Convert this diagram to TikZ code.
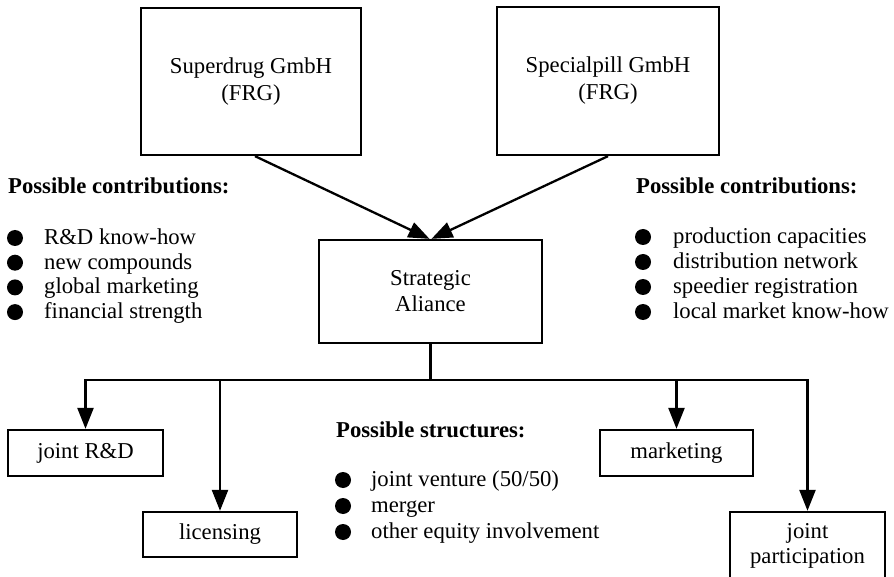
\documentclass[tikz,border=0pt]{standalone}
\usepackage{fontspec}
\setmainfont{Liberation Serif}
\usetikzlibrary{arrows.meta}
\newcommand\dgfont{\fontsize{22.7}{27}\selectfont}
\begin{document}
\begin{tikzpicture}[x=1pt,y=-1pt,line width=2.3pt,
  box/.style={draw,align=center,inner sep=0pt,font=\dgfont},
  arr/.style={-{Triangle[length=21pt,width=16pt]}},
  item/.style={anchor=base west,inner sep=0pt,font=\dgfont},
  head/.style={anchor=base west,inner sep=0pt,font=\dgfont\bfseries},
  dot/.style={circle,fill,draw=none,inner sep=0pt,minimum size=16pt}]
\useasboundingbox (0,0) rectangle (894,577);
% boxes
\node[box,minimum width=220pt,minimum height=147pt] (sd) at (251,81.5) {Superdrug GmbH\\(FRG)};
\node[box,minimum width=222pt,minimum height=148pt] (sp) at (608,81) {Specialpill GmbH\\(FRG)};
\node[box,minimum width=223pt,minimum height=103pt,font={\fontsize{22.7}{26}\selectfont}] (sa) at (430.5,291.5) {Strategic\\Aliance};
\node[box,minimum width=155pt,minimum height=46pt] (jrd) at (85.5,453) {joint R\&D};
\node[box,minimum width=154pt,minimum height=45pt] (lic) at (220,534.5) {licensing};
\node[box,minimum width=153pt,minimum height=46pt] (mkt) at (676.5,453) {marketing};
\node[box,minimum width=155pt,minimum height=67pt,font={\fontsize{22.7}{25}\selectfont}] (jp) at (807.5,545.5) {joint\\participation};
% connectors
\draw[arr] ([xshift=4pt]sd.south) -- ([xshift=-1pt]sa.north);
\draw[arr] (sp.south) -- ([xshift=1pt]sa.north);
\coordinate (bus) at (430.5,380);
\draw (sa.south) -- (bus);
\draw[arr] (bus) -| (jrd.north);
\draw[arr] (bus) -| (jp.north);
\draw[arr] (lic.north |- bus) -- (lic.north);
\draw[arr] (mkt.north |- bus) -- (mkt.north);
% left list
\node[head] (lh) at (7,194) {Possible contributions:};
\foreach \t [count=\i] in {R\&D know-how,new compounds,global marketing,financial strength}{
  \node[dot] (ld\i) at (15,{238+24.7*(\i-1)}) {};
  \node[item] (lt\i) at (43,{244.5+24.7*(\i-1)}) {\t};
}
% right list
\node[head] (rh) at (635,194) {Possible contributions:};
\foreach \t [count=\i] in {production capacities,distribution network,speedier registration,local market know-how}{
  \node[dot] (rd\i) at (643,{237+25*(\i-1)}) {};
  \node[item] (rt\i) at (672,{243.5+25*(\i-1)}) {\t};
}
% middle list
\node[head] (mh) at (335,437) {Possible structures:};
\foreach \t [count=\i] in {joint venture (50/50),merger,other equity involvement}{
  \node[dot] (md\i) at (343,{480+26*(\i-1)}) {};
  \node[item] (mt\i) at (370,{486.5+26*(\i-1)}) {\t};
}
\end{tikzpicture}
\end{document}
